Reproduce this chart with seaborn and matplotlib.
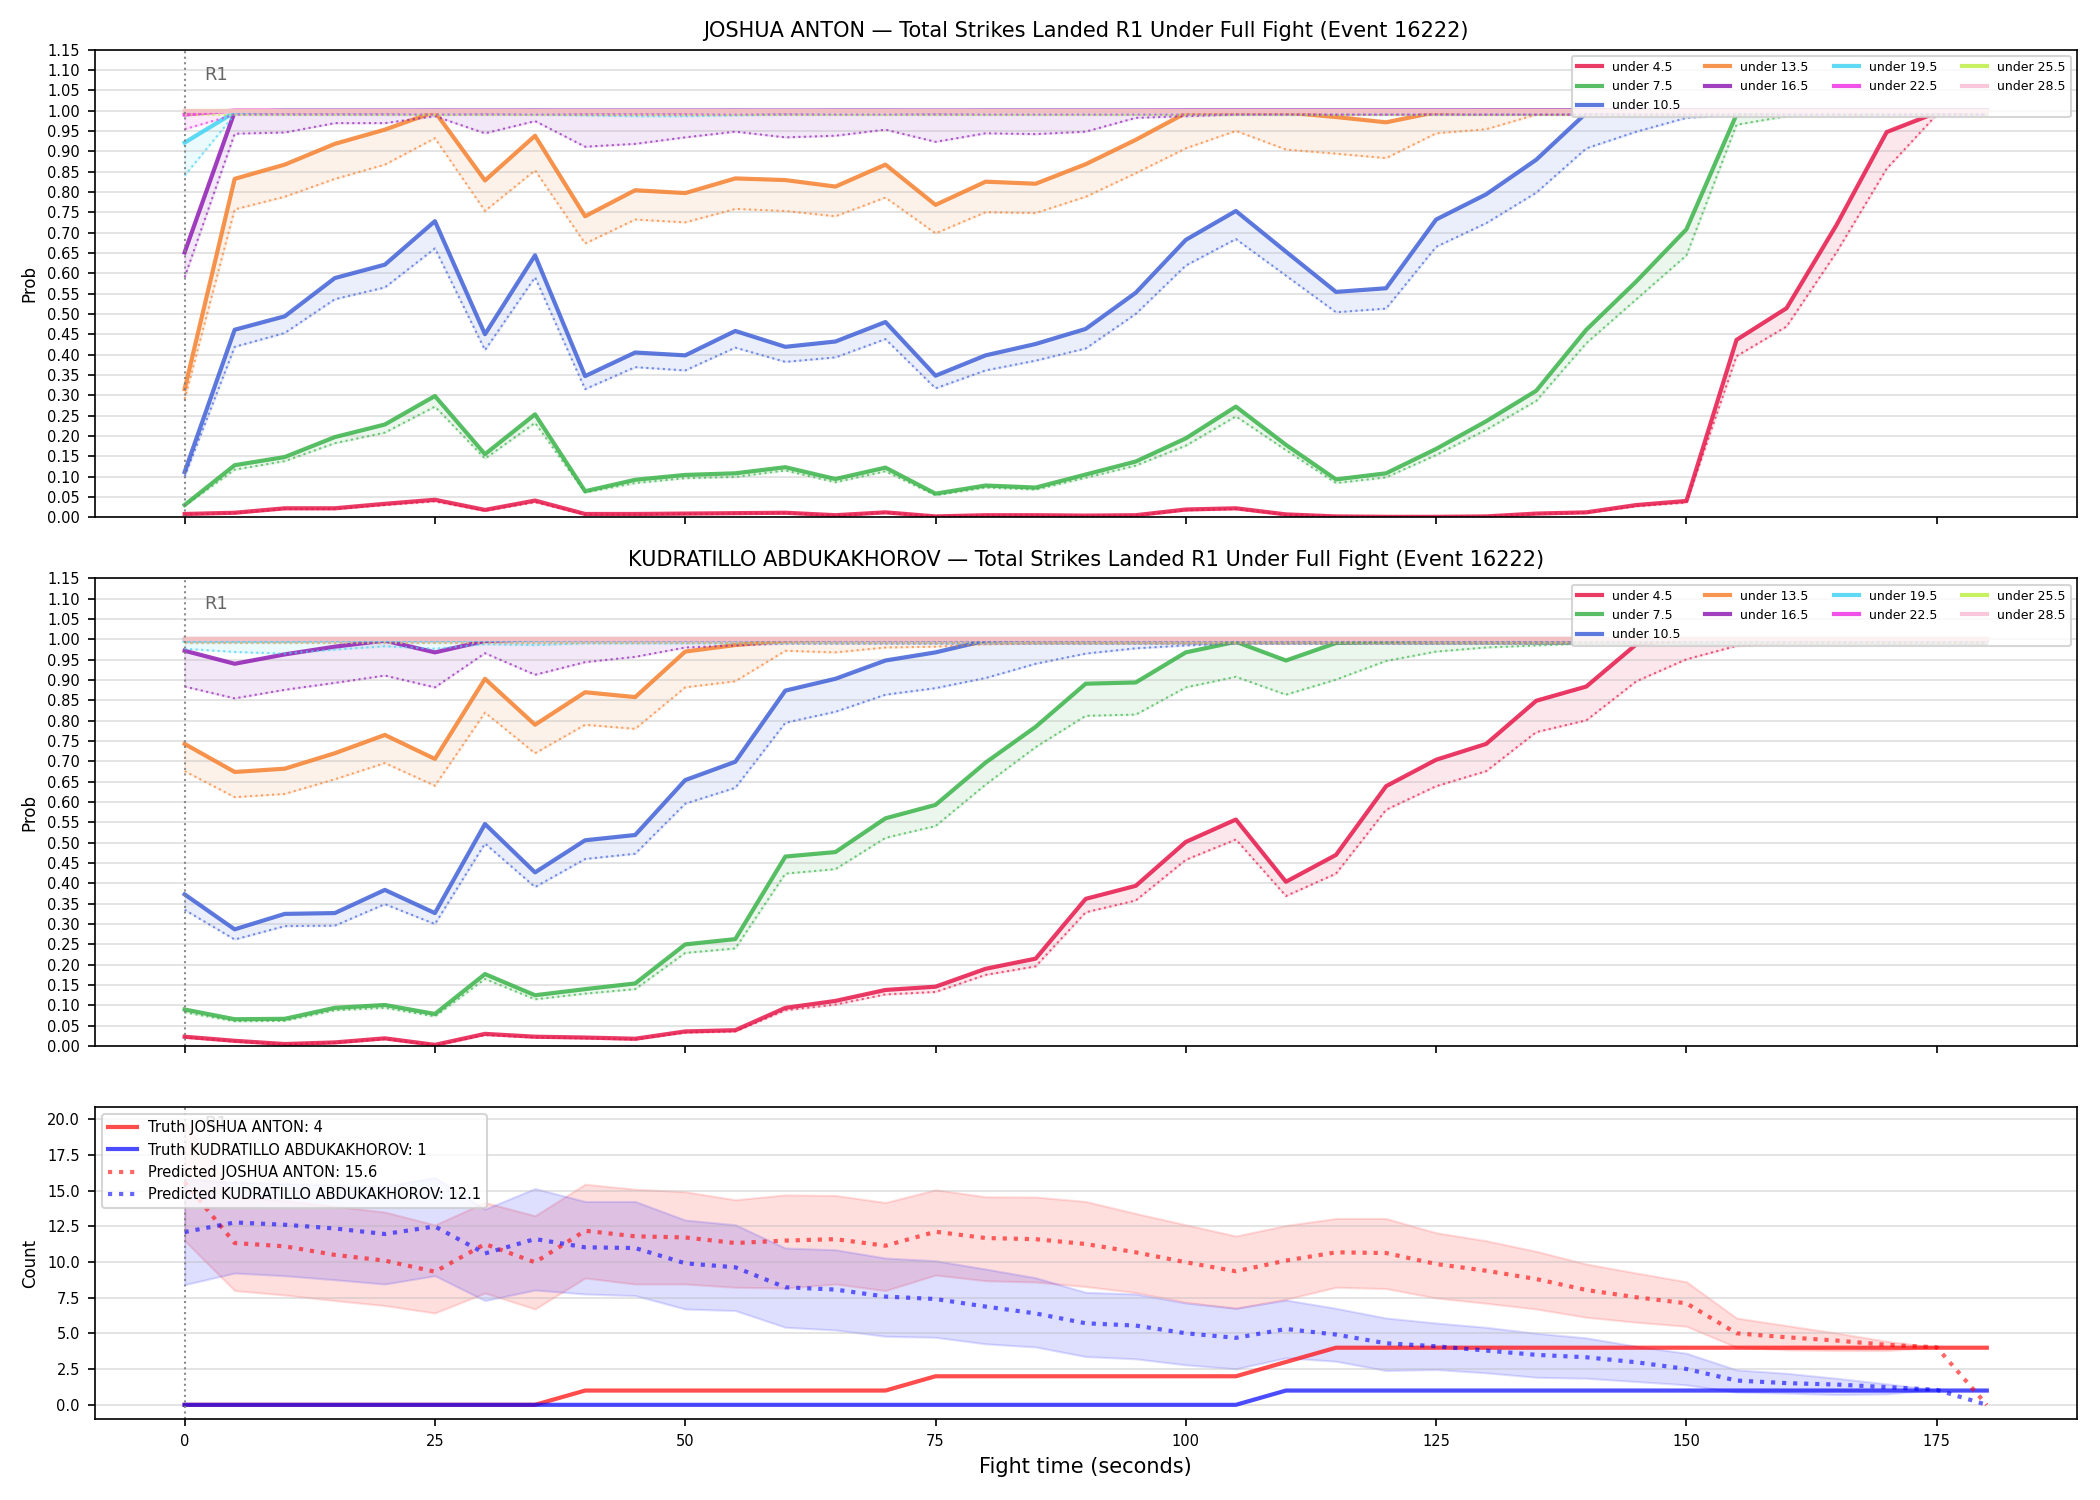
import numpy as np
import seaborn as sns
import matplotlib.pyplot as plt

# czas walki (s)
fight_time = [0, 5, 10, 15, 20, 25, 30, 35, 40, 45, 50, 55, 60, 65, 70, 75, 80, 85,
              90, 95, 100, 105, 110, 115, 120, 125, 130, 135, 140, 145, 150, 155,
              160, 165, 170, 175, 180]

lines = ["under 4.5", "under 7.5", "under 10.5", "under 13.5", "under 16.5",
         "under 19.5", "under 22.5", "under 25.5", "under 28.5"]
line_colors = ["#e6194b", "#3cb44b", "#4363d8", "#f58231", "#911eb4",
               "#42d4f4", "#f032e6", "#bfef45", "#fabed4"]

fighter_a = "JOSHUA ANTON"
fighter_b = "KUDRATILLO ABDUKAKHOROV"
event_id = 16222

# --- JOSHUA ANTON: prawdopodobienstwo (linia) i dolna granica (kropki)
a_u45 = [0.008, 0.011, 0.022, 0.022, 0.033, 0.043, 0.018, 0.041, 0.008, 0.008, 0.009, 0.010,
         0.011, 0.005, 0.012, 0.002, 0.005, 0.005, 0.004, 0.005, 0.019, 0.022, 0.007, 0.002,
         0.001, 0.001, 0.002, 0.009, 0.012, 0.030, 0.040, 0.436, 0.514, 0.719, 0.947, 0.995, 1.0]
a_u45_lo = [0.007, 0.010, 0.020, 0.020, 0.030, 0.039, 0.016, 0.037, 0.007, 0.007, 0.008, 0.009,
            0.010, 0.004, 0.011, 0.002, 0.004, 0.004, 0.003, 0.004, 0.017, 0.020, 0.006, 0.002,
            0.001, 0.001, 0.002, 0.008, 0.011, 0.027, 0.036, 0.396, 0.469, 0.652, 0.857, 0.990, 0.990]
a_u75 = [0.030, 0.128, 0.148, 0.197, 0.228, 0.298, 0.155, 0.253, 0.064, 0.092, 0.104, 0.108,
         0.123, 0.094, 0.122, 0.058, 0.078, 0.073, 0.105, 0.137, 0.194, 0.272, 0.178, 0.093,
         0.108, 0.168, 0.236, 0.311, 0.461, 0.580, 0.708, 0.990, 1.0, 1.0, 1.0, 1.0, 1.0]
a_u75_lo = [0.028, 0.117, 0.138, 0.182, 0.208, 0.272, 0.144, 0.232, 0.061, 0.084, 0.096, 0.099,
            0.115, 0.086, 0.113, 0.054, 0.073, 0.068, 0.097, 0.127, 0.176, 0.248, 0.165, 0.084,
            0.098, 0.153, 0.215, 0.286, 0.428, 0.536, 0.644, 0.965, 0.986, 0.99, 0.99, 0.99, 0.99]
a_u105 = [0.111, 0.461, 0.494, 0.588, 0.621, 0.728, 0.450, 0.644, 0.347, 0.405, 0.398, 0.458,
          0.419, 0.432, 0.480, 0.348, 0.398, 0.426, 0.463, 0.552, 0.682, 0.753, 0.653, 0.554,
          0.563, 0.732, 0.794, 0.879, 0.994, 1.0, 1.0, 1.0, 1.0, 1.0, 1.0, 1.0, 1.0]
a_u105_lo = [0.100, 0.419, 0.453, 0.536, 0.565, 0.661, 0.411, 0.590, 0.315, 0.369, 0.361, 0.417,
             0.382, 0.393, 0.438, 0.317, 0.361, 0.385, 0.415, 0.500, 0.619, 0.684, 0.594, 0.504,
             0.513, 0.665, 0.723, 0.798, 0.907, 0.948, 0.982, 0.99, 0.99, 0.99, 0.99, 0.99, 0.99]
a_u135 = [0.315, 0.832, 0.867, 0.918, 0.953, 0.997, 0.828, 0.938, 0.740, 0.804, 0.797, 0.833,
          0.829, 0.813, 0.867, 0.768, 0.825, 0.820, 0.868, 0.928, 0.994, 0.996, 0.995, 0.984,
          0.971, 0.996, 1.0, 1.0, 1.0, 1.0, 1.0, 1.0, 1.0, 1.0, 1.0, 1.0, 1.0]
a_u135_lo = [0.290, 0.757, 0.788, 0.832, 0.867, 0.932, 0.753, 0.853, 0.673, 0.732, 0.725, 0.758,
             0.753, 0.740, 0.786, 0.698, 0.750, 0.748, 0.788, 0.846, 0.907, 0.950, 0.904, 0.894,
             0.883, 0.944, 0.954, 0.990, 0.99, 0.99, 0.99, 0.99, 0.99, 0.99, 0.99, 0.99, 0.99]
a_u165 = [0.651, 0.997, 0.998, 0.998, 0.998, 0.999, 0.998, 0.999, 0.998, 0.998, 0.998, 0.999,
          0.998, 0.999, 0.999, 0.998, 0.999, 0.999, 0.999, 0.999, 1.0, 1.0, 1.0, 1.0,
          1.0, 1.0, 1.0, 1.0, 1.0, 1.0, 1.0, 1.0, 1.0, 1.0, 1.0, 1.0, 1.0]
a_u165_lo = [0.590, 0.943, 0.946, 0.969, 0.969, 0.986, 0.944, 0.974, 0.911, 0.918, 0.934, 0.948,
             0.934, 0.938, 0.953, 0.923, 0.944, 0.942, 0.948, 0.982, 0.986, 0.99, 0.99, 0.99,
             0.99, 0.99, 0.99, 0.99, 0.99, 0.99, 0.99, 0.99, 0.99, 0.99, 0.99, 0.99, 0.99]
a_u195 = [0.921, 0.996, 1.0, 1.0, 1.0, 1.0, 1.0, 1.0, 1.0, 1.0, 1.0, 1.0,
          1.0, 1.0, 1.0, 1.0, 1.0, 1.0, 1.0, 1.0, 1.0, 1.0, 1.0, 1.0,
          1.0, 1.0, 1.0, 1.0, 1.0, 1.0, 1.0, 1.0, 1.0, 1.0, 1.0, 1.0, 1.0]
a_u195_lo = [0.840, 0.990, 0.99, 0.99, 0.99, 0.99, 0.99, 0.99, 0.988, 0.986, 0.986, 0.988,
             0.99, 0.99, 0.99, 0.99, 0.99, 0.99, 0.99, 0.99, 0.99, 0.99, 0.99, 0.99,
             0.99, 0.99, 0.99, 0.99, 0.99, 0.99, 0.99, 0.99, 0.99, 0.99, 0.99, 0.99, 0.99]
a_u225 = [0.990, 1.0, 1.0, 1.0, 1.0, 1.0, 1.0, 1.0, 1.0, 1.0, 1.0, 1.0,
          1.0, 1.0, 1.0, 1.0, 1.0, 1.0, 1.0, 1.0, 1.0, 1.0, 1.0, 1.0,
          1.0, 1.0, 1.0, 1.0, 1.0, 1.0, 1.0, 1.0, 1.0, 1.0, 1.0, 1.0, 1.0]
a_u225_lo = [0.954, 0.99, 0.99, 0.99, 0.99, 0.99, 0.99, 0.99, 0.99, 0.99, 0.99, 0.99,
             0.99, 0.99, 0.99, 0.99, 0.99, 0.99, 0.99, 0.99, 0.99, 0.99, 0.99, 0.99,
             0.99, 0.99, 0.99, 0.99, 0.99, 0.99, 0.99, 0.99, 0.99, 0.99, 0.99, 0.99, 0.99]
a_u255 = [1.0, 1.0, 1.0, 1.0, 1.0, 1.0, 1.0, 1.0, 1.0, 1.0, 1.0, 1.0,
          1.0, 1.0, 1.0, 1.0, 1.0, 1.0, 1.0, 1.0, 1.0, 1.0, 1.0, 1.0,
          1.0, 1.0, 1.0, 1.0, 1.0, 1.0, 1.0, 1.0, 1.0, 1.0, 1.0, 1.0, 1.0]
a_u255_lo = [0.99, 0.99, 0.99, 0.99, 0.99, 0.99, 0.99, 0.99, 0.99, 0.99, 0.99, 0.99,
             0.99, 0.99, 0.99, 0.99, 0.99, 0.99, 0.99, 0.99, 0.99, 0.99, 0.99, 0.99,
             0.99, 0.99, 0.99, 0.99, 0.99, 0.99, 0.99, 0.99, 0.99, 0.99, 0.99, 0.99, 0.99]
a_u285 = [1.0, 1.0, 1.0, 1.0, 1.0, 1.0, 1.0, 1.0, 1.0, 1.0, 1.0, 1.0,
          1.0, 1.0, 1.0, 1.0, 1.0, 1.0, 1.0, 1.0, 1.0, 1.0, 1.0, 1.0,
          1.0, 1.0, 1.0, 1.0, 1.0, 1.0, 1.0, 1.0, 1.0, 1.0, 1.0, 1.0, 1.0]
a_u285_lo = [0.995, 0.995, 0.995, 0.995, 0.995, 0.995, 0.995, 0.995, 0.995, 0.995, 0.995, 0.995,
             0.995, 0.995, 0.995, 0.995, 0.995, 0.995, 0.995, 0.995, 0.995, 0.995, 0.995, 0.995,
             0.995, 0.995, 0.995, 0.995, 0.995, 0.995, 0.995, 0.995, 0.995, 0.995, 0.995, 0.995, 0.995]

# --- KUDRATILLO ABDUKAKHOROV
b_u45 = [0.023, 0.013, 0.005, 0.009, 0.019, 0.003, 0.030, 0.023, 0.021, 0.018, 0.036, 0.039,
         0.094, 0.111, 0.138, 0.146, 0.190, 0.215, 0.362, 0.394, 0.502, 0.557, 0.404, 0.470,
         0.639, 0.704, 0.743, 0.849, 0.884, 0.988, 1.0, 1.0, 1.0, 1.0, 1.0, 1.0, 1.0]
b_u45_lo = [0.021, 0.011, 0.004, 0.008, 0.017, 0.002, 0.027, 0.021, 0.019, 0.016, 0.033, 0.036,
            0.088, 0.102, 0.127, 0.133, 0.175, 0.196, 0.329, 0.358, 0.458, 0.508, 0.369, 0.424,
            0.581, 0.639, 0.676, 0.772, 0.801, 0.897, 0.951, 0.984, 0.99, 0.99, 0.99, 0.99, 0.99]
b_u75 = [0.090, 0.066, 0.067, 0.094, 0.101, 0.079, 0.177, 0.125, 0.140, 0.154, 0.250, 0.263,
         0.466, 0.477, 0.560, 0.593, 0.697, 0.785, 0.891, 0.894, 0.968, 0.994, 0.948, 0.991,
         0.995, 1.0, 1.0, 1.0, 1.0, 1.0, 1.0, 1.0, 1.0, 1.0, 1.0, 1.0, 1.0]
b_u75_lo = [0.083, 0.061, 0.062, 0.088, 0.094, 0.073, 0.165, 0.115, 0.129, 0.140, 0.229, 0.240,
            0.424, 0.435, 0.512, 0.541, 0.643, 0.735, 0.812, 0.815, 0.882, 0.908, 0.864, 0.901,
            0.947, 0.970, 0.980, 0.985, 0.99, 0.99, 0.99, 0.99, 0.99, 0.99, 0.99, 0.99, 0.99]
b_u105 = [0.373, 0.287, 0.325, 0.327, 0.384, 0.327, 0.546, 0.427, 0.506, 0.519, 0.654, 0.699,
          0.874, 0.903, 0.948, 0.968, 0.997, 1.0, 1.0, 1.0, 1.0, 1.0, 1.0, 1.0,
          1.0, 1.0, 1.0, 1.0, 1.0, 1.0, 1.0, 1.0, 1.0, 1.0, 1.0, 1.0, 1.0]
b_u105_lo = [0.335, 0.262, 0.295, 0.296, 0.349, 0.300, 0.498, 0.391, 0.460, 0.473, 0.596, 0.635,
             0.795, 0.822, 0.864, 0.880, 0.905, 0.940, 0.965, 0.978, 0.985, 0.99, 0.99, 0.99,
             0.99, 0.99, 0.99, 0.99, 0.99, 0.99, 0.99, 0.99, 0.99, 0.99, 0.99, 0.99, 0.99]
b_u135 = [0.743, 0.674, 0.682, 0.720, 0.765, 0.706, 0.903, 0.790, 0.870, 0.858, 0.970, 0.986,
          0.997, 1.0, 1.0, 1.0, 1.0, 1.0, 1.0, 1.0, 1.0, 1.0, 1.0, 1.0,
          1.0, 1.0, 1.0, 1.0, 1.0, 1.0, 1.0, 1.0, 1.0, 1.0, 1.0, 1.0, 1.0]
b_u135_lo = [0.676, 0.612, 0.620, 0.656, 0.696, 0.640, 0.820, 0.720, 0.790, 0.780, 0.882, 0.897,
             0.972, 0.968, 0.980, 0.982, 0.988, 0.99, 0.99, 0.99, 0.99, 0.99, 0.99, 0.99,
             0.99, 0.99, 0.99, 0.99, 0.99, 0.99, 0.99, 0.99, 0.99, 0.99, 0.99, 0.99, 0.99]
b_u165 = [0.972, 0.940, 0.963, 0.982, 0.997, 0.968, 0.996, 1.0, 1.0, 1.0, 1.0, 1.0,
          1.0, 1.0, 1.0, 1.0, 1.0, 1.0, 1.0, 1.0, 1.0, 1.0, 1.0, 1.0,
          1.0, 1.0, 1.0, 1.0, 1.0, 1.0, 1.0, 1.0, 1.0, 1.0, 1.0, 1.0, 1.0]
b_u165_lo = [0.884, 0.855, 0.876, 0.893, 0.911, 0.882, 0.966, 0.913, 0.944, 0.957, 0.980, 0.985,
             0.99, 0.99, 0.99, 0.99, 0.99, 0.99, 0.99, 0.99, 0.99, 0.99, 0.99, 0.99,
             0.99, 0.99, 0.99, 0.99, 0.99, 0.99, 0.99, 0.99, 0.99, 0.99, 0.99, 0.99, 0.99]
b_u195 = [0.997, 0.997, 0.997, 0.998, 0.998, 0.998, 0.999, 0.999, 1.0, 1.0, 1.0, 1.0,
          1.0, 1.0, 1.0, 1.0, 1.0, 1.0, 1.0, 1.0, 1.0, 1.0, 1.0, 1.0,
          1.0, 1.0, 1.0, 1.0, 1.0, 1.0, 1.0, 1.0, 1.0, 1.0, 1.0, 1.0, 1.0]
b_u195_lo = [0.977, 0.969, 0.965, 0.975, 0.983, 0.977, 0.988, 0.986, 0.99, 0.99, 0.99, 0.99,
             0.99, 0.99, 0.99, 0.99, 0.99, 0.99, 0.99, 0.99, 0.99, 0.99, 0.99, 0.99,
             0.99, 0.99, 0.99, 0.99, 0.99, 0.99, 0.99, 0.99, 0.99, 0.99, 0.99, 0.99, 0.99]
b_u225 = a_u255
b_u225_lo = a_u255_lo
b_u255 = a_u255
b_u255_lo = a_u255_lo
b_u285 = a_u285
b_u285_lo = a_u285_lo

# --- liczba ciosow: prawda, predykcja i przedzial
truth_a = [0, 0, 0, 0, 0, 0, 0, 0, 1, 1, 1, 1, 1, 1, 1, 2, 2, 2, 2, 2, 2, 2, 3, 4,
           4, 4, 4, 4, 4, 4, 4, 4, 4, 4, 4, 4, 4]
truth_b = [0, 0, 0, 0, 0, 0, 0, 0, 0, 0, 0, 0, 0, 0, 0, 0, 0, 0, 0, 0, 0, 0, 1, 1,
           1, 1, 1, 1, 1, 1, 1, 1, 1, 1, 1, 1, 1]
pred_a = [15.6, 11.33, 11.1, 10.5, 10.1, 9.32, 11.26, 9.98, 12.19, 11.8, 11.72, 11.33,
          11.5, 11.6, 11.14, 12.12, 11.68, 11.6, 11.26, 10.68, 9.98, 9.35, 10.1, 10.68,
          10.63, 9.86, 9.39, 8.81, 8.04, 7.53, 7.11, 5.01, 4.73, 4.5, 4.2, 4.03, 0.0]
pred_a_hi = [19.85, 14.6, 14.3, 13.9, 13.5, 12.6, 14.17, 13.24, 15.45, 15.1, 14.92, 14.36,
             14.7, 14.66, 14.17, 15.06, 14.57, 14.55, 14.24, 13.4, 12.61, 11.82, 12.56, 13.05,
             13.05, 12.05, 11.49, 10.75, 9.86, 9.23, 8.62, 6.08, 5.55, 5.03, 4.45, 4.03, np.nan]
pred_a_lo = [11.5, 8.0, 7.69, 7.3, 6.95, 6.43, 7.83, 6.71, 8.88, 8.46, 8.46, 8.23,
             8.18, 8.46, 8.0, 9.09, 8.69, 8.6, 8.28, 7.86, 7.18, 6.76, 7.39, 8.23,
             8.14, 7.48, 7.11, 6.71, 6.13, 5.78, 5.5, 4.03, 3.85, 3.8, 3.8, 4.03, np.nan]
pred_b = [12.1, 12.77, 12.61, 12.35, 11.96, 12.49, 10.6, 11.61, 11.03, 10.98, 9.91, 9.63,
          8.23, 8.07, 7.58, 7.41, 6.88, 6.4, 5.71, 5.55, 5.01, 4.69, 5.31, 4.92,
          4.31, 4.1, 3.8, 3.5, 3.33, 2.98, 2.51, 1.7, 1.52, 1.42, 1.24, 1.05, 0.0]
pred_b_hi = [15.8, 15.6, 15.5, 15.4, 15.3, 15.92, 13.7, 15.15, 14.24, 14.24, 12.94, 12.61,
             10.98, 10.86, 10.28, 10.09, 9.51, 8.9, 7.88, 7.76, 7.13, 6.76, 7.34, 6.76,
             6.08, 5.73, 5.43, 5.01, 4.69, 4.1, 3.61, 2.45, 2.21, 1.86, 1.47, 1.05, np.nan]
pred_b_lo = [8.41, 9.23, 9.04, 8.76, 8.46, 9.04, 7.3, 8.04, 7.76, 7.65, 6.71, 6.6,
             5.43, 5.24, 4.8, 4.73, 4.27, 4.05, 3.38, 3.22, 2.8, 2.52, 3.29, 3.05,
             2.4, 2.47, 2.24, 1.93, 1.86, 1.63, 1.4, 0.89, 0.82, 0.72, 0.77, 1.05, np.nan]

series_a = [(a_u45, a_u45_lo), (a_u75, a_u75_lo), (a_u105, a_u105_lo), (a_u135, a_u135_lo),
            (a_u165, a_u165_lo), (a_u195, a_u195_lo), (a_u225, a_u225_lo), (a_u255, a_u255_lo),
            (a_u285, a_u285_lo)]
series_b = [(b_u45, b_u45_lo), (b_u75, b_u75_lo), (b_u105, b_u105_lo), (b_u135, b_u135_lo),
            (b_u165, b_u165_lo), (b_u195, b_u195_lo), (b_u225, b_u225_lo), (b_u255, b_u255_lo),
            (b_u285, b_u285_lo)]


def mark_round(ax):
    ax.axvline(0, color="gray", linestyle=":", linewidth=1, alpha=0.9)
    ax.text(2, 0.945, "R1", transform=ax.get_xaxis_transform(), color="#666666",
            fontsize=8.5, va="center")


def plot_prob_panel(ax, series, fighter):
    for name, color, (prob, low) in zip(lines, line_colors, series):
        ax.fill_between(fight_time, low, prob, color=color, alpha=0.1)
        sns.lineplot(x=fight_time, y=prob, ax=ax, color=color, linewidth=2, alpha=0.85, label=name)
        sns.lineplot(x=fight_time, y=low, ax=ax, color=color, linewidth=1, alpha=0.7, linestyle=":")
    mark_round(ax)
    ax.set_ylim(0, 1.15)
    ax.set_yticks(np.arange(0, 1.151, 0.05))
    ax.set_ylabel("Prob", fontsize=8)
    ax.set_title(f"{fighter} — Total Strikes Landed R1 Under Full Fight (Event {event_id})",
                 fontsize=10)
    ax.grid(axis="y", alpha=0.4)
    ax.tick_params(labelsize=7)
    ax.legend(loc="upper right", ncol=4, fontsize=6)


fig, axes = plt.subplots(3, 1, figsize=(14, 10), dpi=150, sharex=True,
                         gridspec_kw={"height_ratios": [3, 3, 2]})
fig.subplots_adjust(left=0.045, right=0.989, top=0.967, bottom=0.054, hspace=0.147)

plot_prob_panel(axes[0], series_a, fighter_a)
plot_prob_panel(axes[1], series_b, fighter_b)

ax = axes[2]
ax.fill_between(fight_time, pred_a_lo, pred_a_hi, color="red", alpha=0.13)
ax.fill_between(fight_time, pred_b_lo, pred_b_hi, color="blue", alpha=0.13)
sns.lineplot(x=fight_time, y=truth_a, ax=ax, color="red", linewidth=2, alpha=0.7,
             label=f"Truth {fighter_a}: {truth_a[-1]}")
sns.lineplot(x=fight_time, y=truth_b, ax=ax, color="blue", linewidth=2, alpha=0.7,
             label=f"Truth {fighter_b}: {truth_b[-1]}")
sns.lineplot(x=fight_time, y=pred_a, ax=ax, color="red", linewidth=2, alpha=0.6, linestyle=":",
             label=f"Predicted {fighter_a}: {pred_a[0]}")
sns.lineplot(x=fight_time, y=pred_b, ax=ax, color="blue", linewidth=2, alpha=0.6, linestyle=":",
             label=f"Predicted {fighter_b}: {pred_b[0]}")
mark_round(ax)
ax.set_ylabel("Count", fontsize=8)
ax.set_xlabel("Fight time (seconds)", fontsize=10)
ax.grid(axis="y", alpha=0.4)
ax.tick_params(labelsize=7)
ax.legend(loc="upper left", fontsize=7)

plt.savefig("out.png", dpi=150)
